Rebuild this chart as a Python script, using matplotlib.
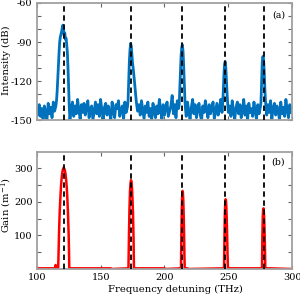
import numpy as np
import matplotlib
matplotlib.use('Agg')
import matplotlib.pyplot as plt

plt.rcParams['font.family'] = ['DejaVu Serif']
plt.rcParams['mathtext.fontset'] = 'dejavuserif'

# pump/comb lines (THz)
line_freqs = [121.0, 173.8, 213.6, 247.3, 277.5]

# (a) measured spectrum, floor segments at 1 THz, peaks at 0.5 THz
floor1_f = list(range(100, 116))
floor1_db = [-140, -146, -138, -147, -141, -149, -139, -144, -150, -137, -145, -140, -148, -136, -143, -139]
peak1_f = [115.5, 116, 116.5, 117, 117.5, 118, 118.5, 119, 119.5, 120, 120.5, 121, 121.5, 122,
           122.5, 123, 123.5, 124, 124.5, 125, 125.5, 126]
peak1_db = [-135, -128, -118, -108, -98, -90, -86, -84, -82, -79, -77, -80, -85, -83,
            -88, -87, -92, -98, -110, -125, -140, -150]
floor2_f = list(range(127, 172))
floor2_db = [-141, -136, -147, -139, -145, -134, -142, -149, -138, -144, -137, -146, -140, -135,
             -148, -141, -139, -150, -143, -136, -145, -138, -147, -134, -142, -149, -140, -137,
             -146, -139, -144, -150, -136, -143, -148, -138, -141, -135, -147, -142, -139, -149,
             -136, -144, -140]
peak2_f = [171.5, 172, 172.5, 173, 173.5, 174, 174.5, 175, 175.5, 176, 176.5, 177, 177.5, 178, 178.5, 179]
peak2_db = [-135, -120, -105, -96, -91, -93, -100, -106, -110, -115, -120, -126, -131, -136, -140, -143]
floor3_f = list(range(180, 212))
floor3_db = [-138, -146, -135, -142, -149, -139, -144, -136, -147, -141, -150, -137, -143, -148,
             -139, -145, -134, -142, -149, -138, -146, -140, -136, -147, -143, -139, -131, -145,
             -138, -148, -135, -141]
peak3_f = [211.5, 212, 212.5, 213, 213.5, 214, 214.5, 215, 215.5, 216, 216.5]
peak3_db = [-138, -125, -110, -100, -94, -92, -97, -108, -122, -135, -142]
floor4_f = list(range(217, 246))
floor4_db = [-147, -136, -143, -149, -140, -134, -145, -138, -148, -141, -137, -146, -150, -139,
             -144, -135, -142, -148, -138, -145, -140, -136, -149, -143, -137, -146, -141, -134,
             -144]
peak4_f = [245.5, 246, 246.5, 247, 247.5, 248, 248.5, 249, 249.5, 250]
peak4_db = [-138, -128, -115, -107, -105, -110, -120, -130, -138, -144]
floor5_f = list(range(251, 276))
floor5_db = [-139, -147, -135, -143, -149, -140, -136, -145, -138, -148, -142, -134, -146, -139,
             -150, -137, -144, -141, -147, -136, -143, -149, -138, -145, -140]
peak5_f = [275.5, 276, 276.5, 277, 277.5, 278, 278.5, 279, 279.5, 280]
peak5_db = [-136, -120, -105, -101, -103, -112, -125, -135, -141, -146]
floor6_f = list(range(281, 301))
floor6_db = [-138, -144, -135, -149, -141, -137, -146, -139, -143, -150, -136, -145, -140, -147,
             -134, -142, -148, -138, -144, -140]

spec_f = floor1_f + peak1_f + floor2_f + peak2_f + floor3_f + peak3_f + floor4_f + peak4_f + floor5_f + peak5_f + floor6_f
spec_db = floor1_db + peak1_db + floor2_db + peak2_db + floor3_db + peak3_db + floor4_db + peak4_db + floor5_db + peak5_db + floor6_db

# (b) calculated gain (1/m)
gain_f = [100, 114.4, 114.8, 115.2, 116.8,
          117, 117.5, 118, 118.5, 119, 119.5, 120, 120.5, 121, 121.5, 122, 122.5, 123, 123.5, 124,
          124.5, 125, 125.3, 125.5, 126, 158, 158.5, 171.8,
          172.2, 172.6, 173, 173.4, 173.8, 174.2, 174.6, 175, 175.4, 175.8, 176.1, 200, 200.5, 212.9,
          213.2, 213.5, 213.8, 214.1, 214.4, 214.7, 215, 215.3, 215.6, 215.8, 218, 218.5, 246.6,
          246.9, 247.2, 247.5, 247.8, 248.1, 248.4, 248.7, 249, 249.3, 249.6, 250, 276.3,
          276.6, 276.9, 277.2, 277.5, 277.8, 278.1, 278.4, 278.7, 278.9, 282, 300]
gain = [2, 2, 12, 2, 2,
        30, 110, 170, 210, 245, 270, 287, 297, 302, 300, 295, 285, 268, 245, 210,
        165, 105, 50, 2, 2, 2, 0, 2,
        100, 180, 230, 255, 265, 260, 240, 205, 160, 90, 2, 2, 0, 2,
        100, 175, 215, 233, 228, 205, 165, 110, 40, 2, 2, 0, 2,
        90, 160, 195, 208, 205, 185, 150, 105, 50, 2, 2, 2,
        100, 155, 178, 181, 168, 140, 100, 45, 2, 2, 0]

spine_col = '#a0a0a0'
H = 296.0
lab_fs = 7.2
tick_fs = 7.0

fig = plt.figure(figsize=(3.0, 2.96), dpi=100)
ax1 = fig.add_axes([0.1223, 0.5936, 0.852, 0.3963])
ax2 = fig.add_axes([0.1223, 0.0912, 0.852, 0.3963])

ax1.plot(spec_f, spec_db, color='#0072BD', lw=2.0)
ax2.plot(gain_f, gain, color='red', lw=1.8)

for ax in (ax1, ax2):
    for f in line_freqs:
        ax.axvline(f, color='black', ls=(0, (3, 2)), lw=1.3, zorder=3)
    ax.set_xlim(100, 300)
    ax.set_xticks([100, 150, 200, 250, 300])
    for s in ax.spines.values():
        s.set_color(spine_col)
        s.set_linewidth(1.3)
    ax.tick_params(direction='in', top=True, right=True, length=3, width=0.8,
                   color='#666666', labelsize=tick_fs, pad=3)

ax1.set_ylim(-150, -60)
ax1.set_yticks([-150, -140, -130, -120, -110, -100, -90, -80, -70, -60])
ax1.set_yticklabels(['-150', '', '', '-120', '', '', '-90', '', '', '-60'])
ax1.set_xticklabels([])

ax2.set_ylim(0, 350)
ax2.set_yticks([50, 100, 150, 200, 250, 300])
ax2.set_yticklabels(['', '100', '', '200', '', '300'])

# axis labels and panel tags placed in figure pixels
fig.text(6.5 / 300, 1 - 60 / H, 'Intensity (dB)', rotation=90, ha='center', va='center', fontsize=lab_fs)
fig.text(6.5 / 300, 1 - 205 / H, 'Gain (m$^{-1}$)', rotation=90, ha='center', va='center', fontsize=lab_fs)
fig.text(175 / 300, 1 - 289 / H, 'Frequency detuning (THz)', ha='center', va='center', fontsize=lab_fs)
ax1.text(0.971, 0.898, '(a)', transform=ax1.transAxes, ha='right', va='center', fontsize=6.8)
ax2.text(0.971, 0.91, '(b)', transform=ax2.transAxes, ha='right', va='center', fontsize=6.8)

fig.savefig('out.png', dpi=100)
